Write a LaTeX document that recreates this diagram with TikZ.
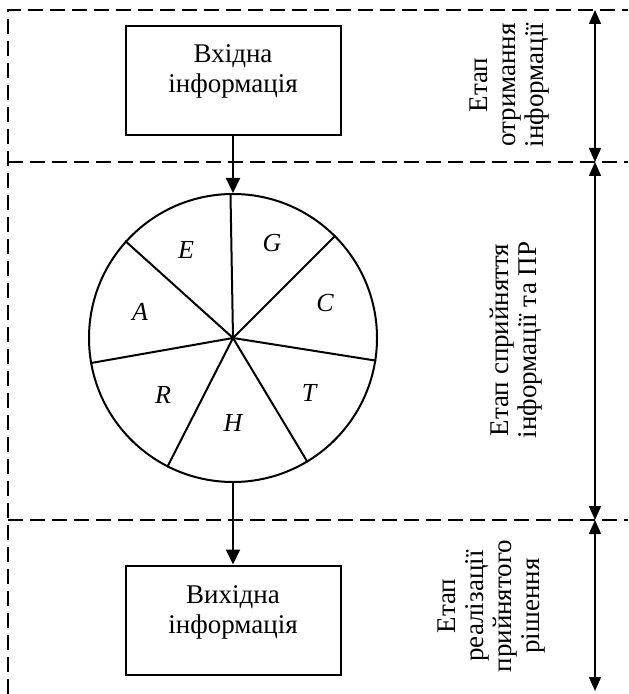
\documentclass[tikz,border=0pt]{standalone}
\usepackage{fontspec}
\setmainfont{Liberation Serif}
\usetikzlibrary{arrows.meta}

\begin{document}
\begin{tikzpicture}[
    x=0.5pt, y=-0.5pt,
    every node/.style={font=\fontsize{13.5}{15}\selectfont},
    infobox/.style={draw, line width=1pt, minimum width=107.5pt, minimum height=54.5pt},
    infotext/.style={align=center},
    sector/.style={font=\fontsize{13}{14}\selectfont\itshape},
    stage/.style={rotate=90, align=center, font=\fontsize{13.5}{14}\selectfont},
    zone/.style={line width=1pt, dash pattern=on 7.5pt off 3.5pt},
    flow/.style={line width=1pt, -{Triangle[length=7.5pt,width=7pt]}},
    stagespan/.style={line width=0.8pt, {Triangle[length=7pt,width=6pt]}-{Triangle[length=7pt,width=6pt]}}
]
\useasboundingbox (0,0) rectangle (628,694);

\draw[zone] (8,694) -- (8,10) -- (628,10);
\draw[zone] (8,162) -- (628,162);
\draw[zone] (8,520) -- (628,520);

\node[infobox] (inbox) at (233,80.5) {};
\node[infotext] (intext) at ([yshift=4.5pt]inbox.center) {Вхідна\\інформація};

\node[draw, circle, line width=1pt, inner sep=0pt, minimum size=144pt] (wheel) at (233,338) {};
\foreach \a in {91,45,138.6,190.5,351.6,243.3,301.4}
    \draw[line width=1pt] (wheel.center) -- (wheel.\a);

\node[sector] (e) at (186,250) {E}; \node[sector] (g) at (272,243) {G};
\node[sector] (a) at (140,312) {A}; \node[sector] (c) at (325,303) {C};
\node[sector] (r) at (163,395) {R}; \node[sector] (t) at (309,393) {T};
\node[sector] (h) at (233,423) {H};

\node[infobox] (outbox) at (233,620) {};
\node[infotext] (outtext) at ([yshift=4pt]outbox.center) {Вихідна\\інформація};

\draw[flow] (inbox) -- (wheel);
\draw[flow] (wheel) -- (outbox);

\node[stage] (gain) at (510,85) {Етап\\отримання\\інформації};
\node[stage] (sense) at (516,340) {Етап сприйняття\\інформації та ПР};
\node[stage] (apply) at (492,606) {Етап\\реалізації\\прийнятого\\рішення};

\coordinate (s0) at (595,10); \coordinate (s1) at (595,162);
\coordinate (s2) at (595,520); \coordinate (s3) at (595,691);
\draw[stagespan] (s0) -- (s1);
\draw[stagespan] (s1) -- (s2);
\draw[stagespan] (s2) -- (s3);
\end{tikzpicture}
\end{document}
